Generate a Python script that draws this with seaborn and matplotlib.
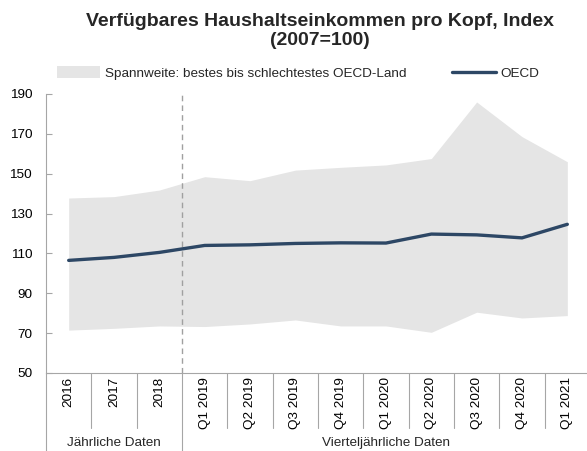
#! /usr/bin/env python
import matplotlib
matplotlib.use('Agg')
import matplotlib.pyplot as plt
import matplotlib.transforms as mtransforms
from matplotlib import font_manager
from matplotlib.patches import Patch
from matplotlib.lines import Line2D
import seaborn as sns
import pandas as pd

# data
periods = ['2016', '2017', '2018', 'Q1 2019', 'Q2 2019', 'Q3 2019', 'Q4 2019',
           'Q1 2020', 'Q2 2020', 'Q3 2020', 'Q4 2020', 'Q1 2021']
oecd = [106.5, 108.0, 110.5, 114.0, 114.3, 115.0, 115.3, 115.2, 119.7, 119.3, 117.8, 124.6]
best = [137.8, 138.5, 141.8, 148.5, 146.5, 151.8, 153.2, 154.4, 157.6, 186.0, 168.6, 156.0]
worst = [71.5, 72.4, 73.6, 73.3, 74.6, 76.6, 73.6, 73.6, 70.4, 80.5, 77.6, 78.8]
groups = ['Jährliche Daten', 'Vierteljährliche Daten']
group_sizes = [3, 9]
yticks = [50, 70, 90, 110, 130, 150, 170, 190]

df = pd.DataFrame({'pos': range(len(periods)), 'period': periods,
                   'oecd': oecd, 'best': best, 'worst': worst})

# style + fonts (set after seaborn, which resets font.family)
sns.set_style('white')
names = {f.name for f in font_manager.fontManager.ttflist}
base = 'Liberation Sans Narrow' if 'Liberation Sans Narrow' in names else 'Liberation Sans'
plt.rcParams['font.family'] = [base, 'DejaVu Sans']

band_col = '#e5e5e5'
line_col = '#2d4765'
axis_col = '#a6a6a6'
fs = 9.7

fig = plt.figure(figsize=(5.87, 4.51), dpi=100)
ax = fig.add_axes([0.0784, 0.173, 0.9267, 0.6186])

ax.fill_between(df['pos'], df['worst'], df['best'], color=band_col, lw=0, zorder=1)
sns.lineplot(data=df, x='pos', y='oecd', ax=ax, color=line_col, lw=2.4, zorder=3)

n = len(periods)
ax.set_xlim(-0.5, n - 0.5)
ax.set_ylim(50, 190)
ax.set_yticks(yticks)
ax.set_xticks(range(n))
ax.set_xticklabels(periods, rotation=90, va='top', ha='center')
ax.set_xlabel('')
ax.set_ylabel('')
ax.tick_params(axis='x', length=0, pad=3, labelsize=fs, colors='black')
ax.tick_params(axis='y', direction='in', length=4, width=0.8, color=axis_col,
               pad=10, labelsize=fs, labelcolor='black', left=True)
for s in ['top', 'right']:
    ax.spines[s].set_visible(False)
for s in ['left', 'bottom']:
    ax.spines[s].set_color(axis_col)
    ax.spines[s].set_linewidth(0.8)

# dashed divider between annual and quarterly data
split = group_sizes[0] - 0.5
ax.axvline(split, color='#a0a0a0', lw=1.0, ls=(0, (4, 3)), zorder=2)

# category separators below the axis
trans = mtransforms.blended_transform_factory(ax.transData, ax.transAxes)
bounds = [-0.5, split]
for k in range(n):
    x = k - 0.5
    if x in bounds:
        ax.plot([x, x], [0, -0.30], transform=trans, color=axis_col, lw=0.8, clip_on=False)
    elif k > 0:
        ax.plot([x, x], [0, -0.198], transform=trans, color=axis_col, lw=0.8, clip_on=False)

# group labels
start = -0.5
for g, size in zip(groups, group_sizes):
    ax.text(start + size / 2, -0.25, g, transform=trans, ha='center', va='center', fontsize=fs)
    start += size

# legend
handles = [Patch(facecolor=band_col, edgecolor='none'),
           Line2D([0], [0], color=line_col, lw=2.4)]
fig.legend(handles, ['Spannweite: bestes bis schlechtestes OECD-Land', 'OECD'],
           loc='center', bbox_to_anchor=(0.508, 0.838), ncol=2, frameon=False,
           fontsize=fs, handlelength=3.2, handletextpad=0.35, columnspacing=3.4,
           handleheight=0.9)

fig.suptitle('Verfügbares Haushaltseinkommen pro Kopf, Index\n(2007=100)',
             x=0.545, y=0.972, fontsize=14.0, fontweight='bold', linespacing=1.15)

fig.savefig('out.png', dpi=100)
